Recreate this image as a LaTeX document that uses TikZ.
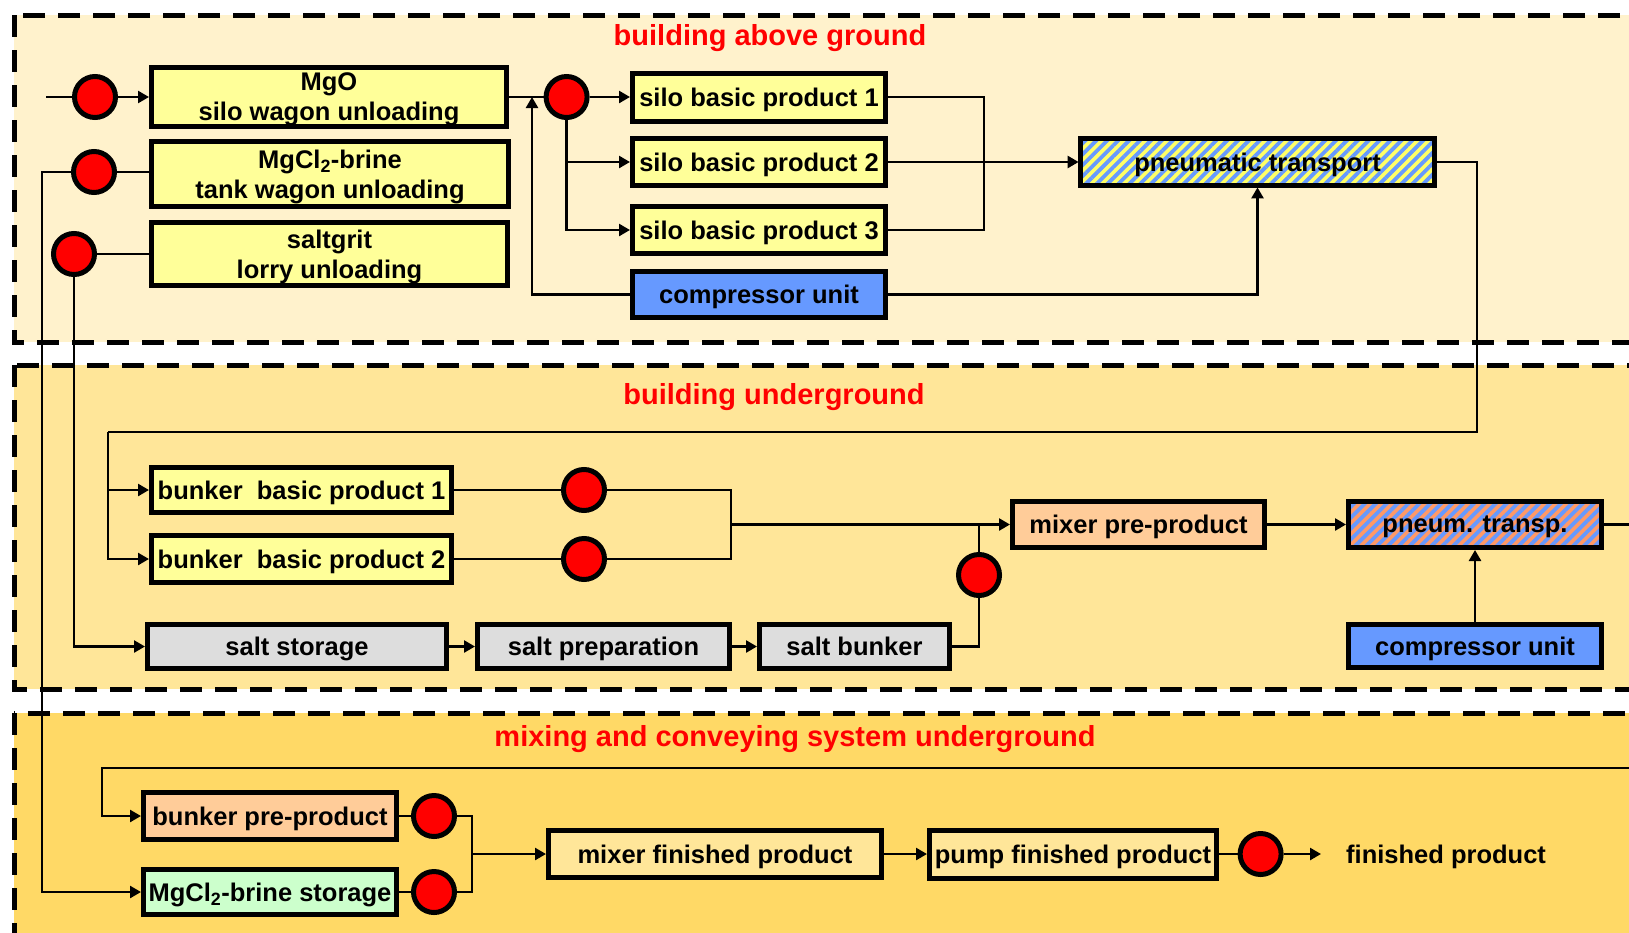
\documentclass[tikz,border=0pt]{standalone}
\usepackage{fontspec}
\setmainfont{Liberation Sans}
\usetikzlibrary{arrows.meta,patterns.meta}

\definecolor{zoneA}{HTML}{FFF2CC}
\definecolor{zoneB}{HTML}{FFE699}
\definecolor{zoneC}{HTML}{FFD966}
\definecolor{boxyellow}{HTML}{FFFF99}
\definecolor{unitblue}{HTML}{6699FF}
\definecolor{saltgrey}{HTML}{DDDDDD}
\definecolor{preorange}{HTML}{FFCC99}
\definecolor{brinegreen}{HTML}{CCFFCC}
\definecolor{finlight}{HTML}{FFE699}
\definecolor{hatchyellow}{HTML}{FFFF66}
\definecolor{hatchorange}{HTML}{FF9966}

\newcommand\unitfont{\fontsize{25.5}{30}\selectfont\bfseries}
\newcommand\zonefont{\fontsize{29}{34}\selectfont\bfseries}

\begin{document}
\begin{tikzpicture}[x=1pt,y=-1pt,
  box/.style={draw,line width=5pt,inner sep=0pt,text depth=0pt,font=\unitfont,align=center},
  valve/.style={circle,draw,fill=red,line width=5pt,minimum size=41pt,inner sep=0pt},
  pipe/.style={line width=2.5pt},
  flow/.style={line width=2.5pt,-{Triangle[length=11pt,width=12pt]}},
  zone/.style={line width=5pt,dash pattern=on 22pt off 13pt},
  title/.style={text=red,font=\zonefont},
  stripes/.style={pattern={Lines[angle=45,distance=7.7pt,line width=3.8pt]},pattern color=unitblue}]
\clip (0,0) rectangle (1629,932);

% Zones
\draw[zone,fill=zoneA] (14,15) rectangle (1680,342);
\draw[zone,fill=zoneB] (14,365) rectangle (1680,689);
\draw[zone,fill=zoneC] (14,713) rectangle (1680,990);
\node[title] (t1) at (770,38) {building above ground};
\node[title] (t2) at (774,397) {building underground};
\node[title] (t3) at (795,739) {mixing and conveying system underground};

% Building above ground
\node[box,fill=boxyellow,minimum width=355pt,minimum height=59pt] (mgo) at (329,97) {MgO\\silo wagon unloading};
\node[box,fill=boxyellow,minimum width=357pt,minimum height=65pt] (mgcl) at (330,174) {MgCl\textsubscript{2}-brine\\tank wagon unloading};
\node[box,fill=boxyellow,minimum width=356pt,minimum height=63pt] (grit) at (329.5,254) {saltgrit\\lorry unloading};
\node[box,fill=boxyellow,minimum width=253pt,minimum height=48pt] (silo1) at (759,97) {silo basic product 1};
\node[box,fill=boxyellow,minimum width=253pt,minimum height=47pt] (silo2) at (759,162) {silo basic product 2};
\node[box,fill=boxyellow,minimum width=253pt,minimum height=47pt] (silo3) at (759,230) {silo basic product 3};
\node[box,fill=unitblue,minimum width=253pt,minimum height=46pt] (comp1) at (759,294.5) {compressor unit};
\node[box,preaction={fill=hatchyellow},stripes,minimum width=354pt,minimum height=47pt] (pneu1) at (1257.5,162) {pneumatic transport};

\node[valve] (c1) at (95,97) {};
\node[valve] (c2) at (94,172) {};
\node[valve] (c3) at (74,254) {};
\node[valve] (c4) at (566.6,97) {};

\coordinate (feed) at (46,97);
\coordinate (j1) at (532,97);
\coordinate (j2) at (984,162);
\draw[pipe] (feed) -- (c1);
\draw[flow] (c1) -- (mgo);
\draw[pipe] (mgo) -- (c4);
\draw[flow] (c4) -- (silo1);
\draw[flow] (c4.south) |- (silo2);
\draw[flow] (c4.south) |- (silo3);
\draw[pipe] (silo1) -| (j2) |- (silo3);
\draw[flow] (silo2) -- (pneu1);
\draw[flow] (comp1) -| (pneu1);
\draw[flow] (comp1) -| (j1);

% Building underground
\node[box,fill=boxyellow,minimum width=300pt,minimum height=45pt] (bunker1) at (301.5,490) {bunker\ \ basic product 1};
\node[box,fill=boxyellow,minimum width=300pt,minimum height=47pt] (bunker2) at (301.5,559) {bunker\ \ basic product 2};
\node[box,fill=saltgrey,minimum width=299pt,minimum height=44pt] (saltstor) at (297,646.5) {salt storage};
\node[box,fill=saltgrey,minimum width=252pt,minimum height=44pt] (saltprep) at (603.5,646.5) {salt preparation};
\node[box,fill=saltgrey,minimum width=190pt,minimum height=44pt] (saltbunk) at (854.5,646.5) {salt bunker};
\node[box,fill=preorange,minimum width=252pt,minimum height=46pt] (mixpre) at (1138.5,524.5) {mixer pre-product};
\node[box,preaction={fill=hatchorange},stripes,minimum width=253pt,minimum height=46pt] (pneu2) at (1475,524.5) {pneum. transp.};
\node[box,fill=unitblue,minimum width=253pt,minimum height=43pt] (comp2) at (1475,646) {compressor unit};

\node[valve] (c5) at (584,490) {};
\node[valve] (c6) at (584,559) {};
\node[valve] (c7) at (979,575) {};

\coordinate (j3) at (1477,432);
\coordinate (j4) at (108,432);
\coordinate (j6) at (731,524.5);
\draw[pipe] (pneu1) -| (j3) -- (j4);
\draw[flow] (j4) |- (bunker1);
\draw[flow] (j4) |- (bunker2);
\draw[pipe] (grit) -- (c3);
\draw[flow] (c3) |- (saltstor);
\draw[pipe] (mgcl.west |- c2) -- (c2);
\draw[pipe] (bunker1) -- (c5) -| (j6) |- (c6) -- (bunker2);
\draw[flow] (j6) -- (mixpre);
\draw[flow] (saltstor) -- (saltprep);
\draw[flow] (saltprep) -- (saltbunk);
\draw[pipe] (saltbunk) -| (c7);
\draw[pipe] (c7) -- (c7 |- mixpre);
\draw[flow] (mixpre) -- (pneu2);
\draw[flow] (comp2) -- (pneu2);

% Mixing and conveying system
\node[box,fill=preorange,minimum width=253pt,minimum height=47pt] (bunkpre) at (270,816) {bunker pre-product};
\node[box,fill=brinegreen,minimum width=253pt,minimum height=45pt] (brine) at (270,892) {MgCl\textsubscript{2}-brine storage};
\node[box,fill=finlight,minimum width=333pt,minimum height=47pt] (mixfin) at (715,854) {mixer finished product};
\node[box,fill=finlight,minimum width=287pt,minimum height=48pt] (pump) at (1073,854) {pump finished product};
\node[font=\unitfont,anchor=west,inner sep=0pt,text depth=0pt] (fin) at (1346,854) {finished product};

\node[valve] (c8) at (434,816) {};
\node[valve] (c9) at (434,892) {};
\node[valve] (c10) at (1260.6,854) {};

\coordinate (j5) at (42,172);
\coordinate (r1) at (1660,768);
\coordinate (j8) at (102,768);
\coordinate (j10) at (472,854);
\coordinate (out) at (1321,854);
\draw[flow] (c2) -- (j5) |- (brine);
\draw[flow] (pneu2) -| (r1) -- (j8) |- (bunkpre);
\draw[pipe] (bunkpre) -- (c8) -| (j10) |- (c9) -- (brine);
\draw[flow] (j10) -- (mixfin);
\draw[flow] (mixfin) -- (pump);
\draw[pipe] (pump) -- (c10);
\draw[flow] (c10) -- (out);
\end{tikzpicture}
\end{document}
